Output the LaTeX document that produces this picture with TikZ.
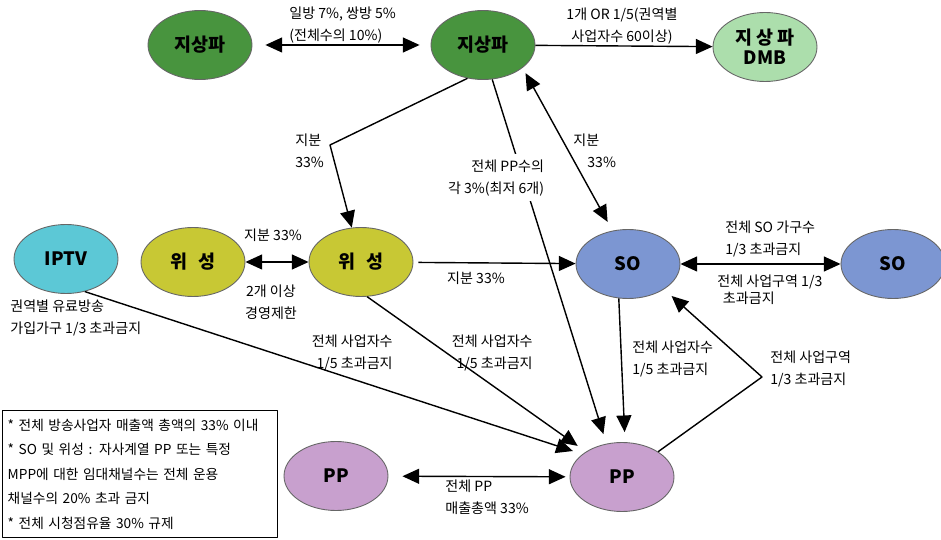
\documentclass[tikz,border=0pt]{standalone}
\usepackage{fontspec}
\setmainfont{Noto Sans CJK KR}
\usetikzlibrary{arrows.meta,shapes.geometric}
\definecolor{tvgreen}{RGB}{72,148,62}
\definecolor{dmbgreen}{RGB}{172,222,172}
\definecolor{iptvcyan}{RGB}{92,200,214}
\definecolor{satyellow}{RGB}{200,200,52}
\definecolor{soblue}{RGB}{124,150,210}
\definecolor{pppink}{RGB}{200,160,206}
\begin{document}
\begin{tikzpicture}[x=0.02cm,y=-0.02cm,font=\fontsize{8}{12.5}\selectfont,
	line join=round,>={Triangle[length=9.5pt,width=8.5pt]},
	ell/.style={ellipse,draw=black!60,line width=0.5pt,minimum width=2.08cm,minimum height=1.38cm,inner sep=0pt,align=center,font=\fontsize{10.5}{11.5}\selectfont\bfseries},
	con/.style={line width=0.8pt},
	lab/.style={inner sep=0pt}]
	\useasboundingbox (0,0) rectangle (941,540);
	% ellipses
	\foreach \n/\x/\y/\c/\t in {T1/200/45/tvgreen/지상파, T2/483/45/tvgreen/지상파, DMB/765/47/dmbgreen/{지 상 파\\DMB}, IPTV/66/259/iptvcyan/IPTV, S1/193/262/satyellow/위\hspace{.6em}성, S2/361/262/satyellow/위\hspace{.6em}성, SO1/628/264/soblue/SO, SO2/893/264/soblue/SO, PP1/336/476/pppink/PP, PP2/622/477/pppink/PP}
		\node[ell,fill=\c] (\n) at (\x,\y) {\t};
	\coordinate (K1) at (330,145);
	\coordinate (K2) at (762,377);
	% connectors
	\draw[con,<->,shorten <=0.26cm,shorten >=0.22cm] (T1) -- (T2);
	\draw[con,->] (T2) -- (DMB);
	\draw[con,->] (T2.245) -- (K1) -- (S2.105);
	\draw[con,->,shorten >=0.2cm] (T2.285) -- node[pos=0.27,xshift=-0.54cm,fill=white,inner sep=3pt,align=right] (L4) {전체 PP수의\\각 3\%(최저 6개)} (PP2.115);
	\draw[con,<->,shorten <=0.12cm,shorten >=0.2cm] (T2.330) -- (SO1.115);
	\draw[con,<->] (S1) -- (S2);
	\draw[con,->,shorten <=0.1cm] (S2) -- (SO1);
	\draw[con,<->] (SO1) -- (SO2);
	\draw[con,->,shorten >=0.2cm] (IPTV.300) -- (PP2.150);
	\draw[con,->,shorten >=0.2cm] (S2.280) -- (PP2.145);
	\draw[con,->,shorten >=0.2cm] (SO1.255) -- (PP2.85);
	\draw[con,->,shorten >=0.2cm] (PP2.35) -- (K2) -- (SO1.-35);
	\draw[con,<->,shorten <=0.28cm,shorten >=0.08cm] (PP1) -- (PP2);
	% labels
	\node[lab,anchor=west,align=left] (L1) at (289,25) {일방 7\%, 쌍방 5\%\\(전체수의 10\%)};
	\node[lab,align=center] (L2) at (622,26) {1개 OR 1/5(권역별\\사업자수 60이상)};
	\node[lab,anchor=west,align=left] (L3) at (295,151) {지분\\33\%};
	\node[lab,anchor=west,align=left] (L5) at (573,151) {지분\\\hspace*{1em}33\%};
	\node[lab] (L6) at (273,235) {지분 33\%};
	\node[lab,align=center] (L7) at (271,302) {2개 이상\\경영제한};
	\node[lab] (L8) at (476,278) {지분 33\%};
	\node[lab,anchor=west,align=left] (L9) at (10,318) {권역별 유료방송\\가입가구 1/3 초과금지};
	\node[lab,anchor=east,align=right] (L10) at (393,353) {전체 사업자수\\1/5 초과금지};
	\node[lab,anchor=east,align=right] (L11) at (533,353) {전체 사업자수\\1/5 초과금지};
	\node[lab,anchor=west,align=left] (L12) at (725,239) {전체 SO 가구수\\1/3 초과금지};
	\node[lab,anchor=west,align=left,font=\fontsize{8}{9.5}\selectfont] (L13) at (717,290) {전체 사업구역 1/3\\\hspace*{0.4em}초과금지};
	\node[lab,anchor=west,align=left] (L14) at (632,359) {전체 사업자수\\1/5 초과금지};
	\node[lab,anchor=west,align=left] (L15) at (770,369) {전체 사업구역\\1/3 초과금지};
	\node[lab,anchor=west,align=left] (L16) at (445,497) {전체 PP\\매출총액 33\%};
	% note box
	\node[draw,line width=0.8pt,anchor=north west,minimum width=5.5cm,minimum height=2.54cm,inner xsep=0.1cm,text width=5.3cm,align=left,font=\fontsize{7.8}{14}\selectfont] (N) at (2,410)
		{* 전체 방송사업자 매출액 총액의 33\% 이내\\
		\makebox[5.3cm][s]{* SO 및 위성 : 자사계열 PP 또는 특정}\\
		\makebox[5.3cm][s]{MPP에 대한 임대채널수는 전체 운용}\\
		채널수의 20\% 초과 금지\\{}
		* 전체 시청점유율 30\% 규제};
\end{tikzpicture}
\end{document}
